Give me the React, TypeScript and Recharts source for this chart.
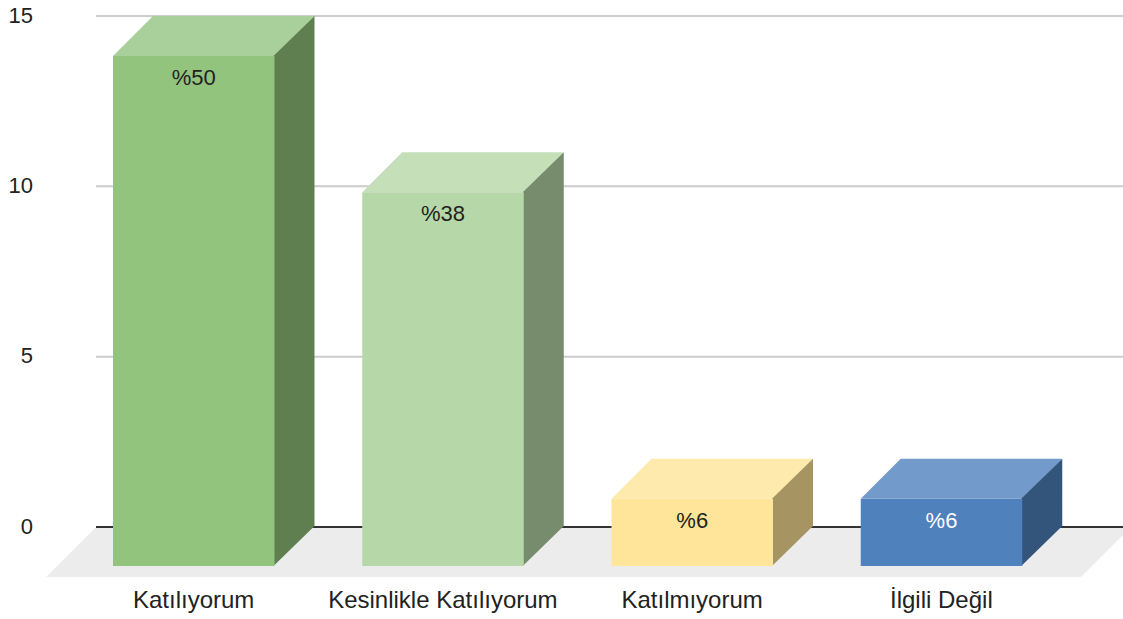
import { Bar, BarChart, CartesianGrid, Cell, LabelList, ReferenceArea, XAxis, YAxis } from "recharts";

const categories = ["Katılıyorum", "Kesinlikle Katılıyorum", "Katılmıyorum", "İlgili Değil"];
const counts = [15, 11, 2, 2];
const percentLabels = ["%50", "%38", "%6", "%6"];
const yTicks = [0, 5, 10, 15];

const frontColors = ["#93c47d", "#b6d7a8", "#ffe599", "#4f81bd"];
const topColors = ["#a9d09a", "#c5dfb9", "#ffeaad", "#729aca"];
const sideColors = ["#5f7f51", "#768c6d", "#a69563", "#33547b"];
const labelColors = ["#222222", "#222222", "#222222", "#ffffff"];

const data = categories.map((name, i) => ({ name, count: counts[i], percent: percentLabels[i] }));

// the library scales give the back face, the front face is pushed down-left
const DEPTH = 40;
const PAD_LEFT = 13;
const PAD_RIGHT = 17;
const FONT = "'Liberation Sans', Arial, sans-serif";

function Box(props: any) {
  const { x, y, width, index } = props;
  const height = props.height - 1;
  const fx = x - DEPTH;
  const fy = y + DEPTH;
  // side starts 1px under the front rect so the zero line can't show in the seam
  return (
    <g>
      <polygon
        points={`${fx},${fy} ${x},${y} ${x + width},${y} ${fx + width},${fy}`}
        fill={topColors[index]}
      />
      <polygon
        points={`${fx + width - 1},${fy} ${x + width},${y} ${x + width},${y + height} ${fx + width - 1},${y + height + DEPTH}`}
        fill={sideColors[index]}
      />
      <rect x={fx} y={fy} width={width} height={height} fill={frontColors[index]} />
    </g>
  );
}

// floor and zero line have to sit behind the bars, the axis line would be on top
function Floor(props: any) {
  const { x, y, width, height } = props;
  const left = x - PAD_LEFT;
  const right = x + width + PAD_RIGHT;
  const back = y + height;
  const front = back + 50;
  return (
    <g>
      <polygon
        points={`${left},${back} ${right + 8},${back} ${right + 8 - 50},${front} ${left - 50},${front}`}
        fill="#ececec"
      />
      <line x1={left} x2={right} y1={back} y2={back} stroke="#333333" strokeWidth={2} />
    </g>
  );
}

function CategoryTick(props: any) {
  const { x, y, payload } = props;
  return (
    <text x={x - DEPTH} y={y + 73} textAnchor="middle" fontFamily={FONT} fontSize={24} fill="#222222">
      {payload.value}
    </text>
  );
}

function PercentLabel(props: any) {
  const { x, y, width, index, value } = props;
  return (
    <text
      x={x - DEPTH + width / 2}
      y={y + DEPTH + 29}
      textAnchor="middle"
      fontFamily={FONT}
      fontSize={22}
      fill={labelColors[index]}
    >
      {value}
    </text>
  );
}

export default function App() {
  return (
    <div style={{ position: "absolute", left: 0, top: 0, width: 1123, height: 619 }}>
      <BarChart
        width={1123}
        height={619}
        data={data}
        margin={{ top: 16, right: 0, bottom: 62, left: 0 }}
        barSize={161.5}
      >
        <CartesianGrid vertical={false} stroke="#cccccc" strokeWidth={2} />
        <ReferenceArea y1={0} y2={15} shape={Floor} ifOverflow="visible" />
        <XAxis
          dataKey="name"
          interval={0}
          padding={{ left: PAD_LEFT, right: PAD_RIGHT }}
          axisLine={false}
          tickLine={false}
          tick={CategoryTick}
        />
        <YAxis
          width={96}
          domain={[0, 15]}
          ticks={yTicks}
          axisLine={false}
          tickLine={false}
          tickMargin={57}
          tick={{ fontFamily: FONT, fontSize: 22, fill: "#222222", dy: -1 }}
        />
        <Bar dataKey="count" shape={Box} isAnimationActive={false}>
          {data.map((d, i) => (
            <Cell key={d.name} fill={frontColors[i]} />
          ))}
          <LabelList dataKey="percent" content={PercentLabel} />
        </Bar>
      </BarChart>
    </div>
  );
}
